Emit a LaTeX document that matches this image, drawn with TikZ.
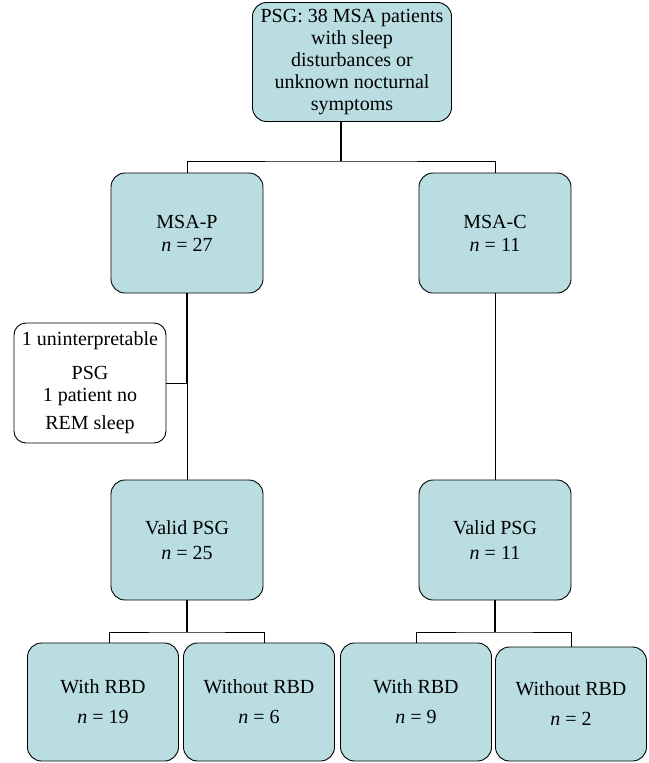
\documentclass[tikz,border=0pt]{standalone}
\usepackage{fontspec}
\setmainfont{Liberation Serif}
\usepackage{tikz}
\usetikzlibrary{positioning,calc}
\definecolor{boxblue}{RGB}{185,221,225}
\tikzstyle{box}=[rectangle,rounded corners=14pt,draw=black,fill=boxblue,line width=0.9pt,
  minimum width=152pt,minimum height=120pt,align=center,inner sep=1pt,
  font=\fontsize{20}{22}\selectfont]
\tikzstyle{note}=[box,fill=white,rounded corners=12pt]
\tikzstyle{link}=[draw=black,line width=0.9pt]
\tikzstyle{stem}=[draw=black,line width=1.4pt]

\begin{document}
\begin{tikzpicture}[x=1pt,y=-1pt]
  \useasboundingbox (0,0) rectangle (648,763);
  \node[box,minimum width=199pt,minimum height=119pt] (root) at (352,62)
    {PSG: 38 MSA patients\\with sleep\\disturbances or\\unknown nocturnal\\symptoms};
  \node[box] (msap) at (187,233) {MSA-P\\[1pt]\textit{n} = 27};
  \node[box] (msac) at (495,233) {MSA-C\\[1pt]\textit{n} = 11};
  \node[note] (excl) at (90,383)
    {1 uninterpretable\\[12pt]PSG\\1 patient no\\[6pt]REM sleep};
  \node[box] (validp) at (187,540) {Valid PSG\\[3pt]\textit{n} = 25};
  \node[box] (validc) at (495,540) {Valid PSG\\[3pt]\textit{n} = 11};
  \node[box,minimum width=151pt,minimum height=118pt] (withp) at (103,702) {With RBD\\[8pt]\textit{n} = 19};
  \node[box,minimum width=151pt,minimum height=118pt] (wop) at (259,702) {Without RBD\\[8pt]\textit{n} = 6};
  \node[box,minimum width=151pt,minimum height=118pt] (withc) at (416,702) {With RBD\\[8pt]\textit{n} = 9};
  \node[box,minimum width=151pt,minimum height=114pt] (woc) at (571,704) {Without RBD\\[8pt]\textit{n} = 2};
  % tree links
  \coordinate (top) at (341,161);
  \coordinate (leftsplit) at (187,632);
  \coordinate (rightsplit) at (495,632);
  \draw[stem] ([xshift=-11pt]root.south) -- (top);
  \draw[link] (msap.north) |- (top) -| (msac.north);
  \draw[stem] (msap.south) -- (excl.east -| msap.south);
  \draw[link] (excl.east -| msap.south) -- (validp.north);
  \draw[link] (excl.east) -- (excl.east -| msap.south);
  \draw[link] (msac.south) -- (validc.north);
  \draw[stem] (validp.south) -- (leftsplit);
  \draw[link] ([xshift=6pt]withp.north) |- (leftsplit) -| ([xshift=5pt]wop.north);
  \draw[stem] (validc.south) -- (rightsplit);
  \draw[link] (withc.north) |- (rightsplit) -| (woc.north);
\end{tikzpicture}
\end{document}
